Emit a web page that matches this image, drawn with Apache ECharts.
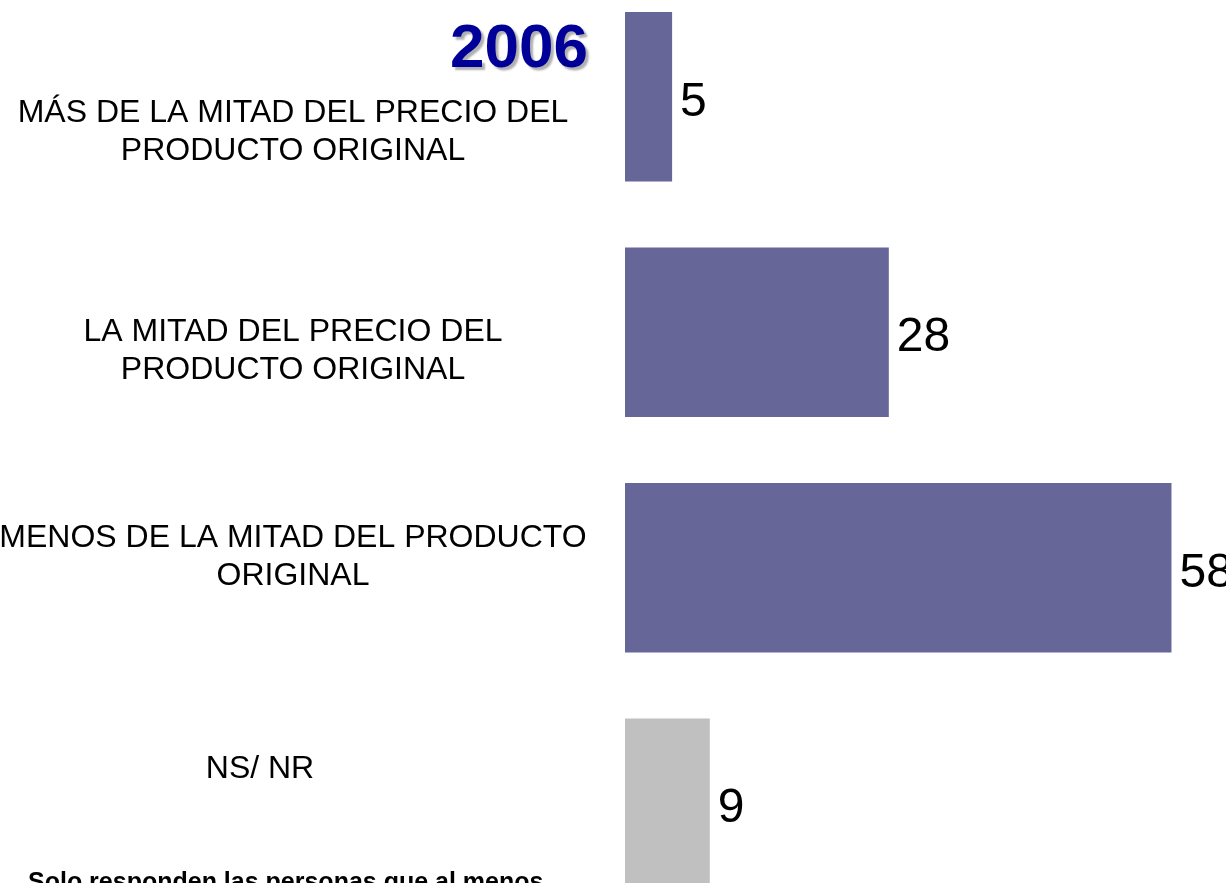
<!DOCTYPE html>
<html>
<head>
<meta charset="utf-8">
<title>2006</title>
<script src="https://cdn.jsdelivr.net/npm/echarts@6/dist/echarts.min.js"></script>
<style>
  html, body { margin: 0; padding: 0; background: #fff; }
  #chart { width: 1226px; height: 883px; }
</style>
</head>
<body>
<div id="chart"></div>
<script>
// categories, top to bottom
const categories = [
  'MÁS DE LA MITAD DEL PRECIO DEL\nPRODUCTO ORIGINAL',
  'LA MITAD DEL PRECIO DEL\nPRODUCTO ORIGINAL',
  'MENOS DE LA MITAD DEL PRODUCTO\nORIGINAL',
  'NS/ NR'
];
const values = [5, 28, 58, 9];
const barColors = ['#666699', '#666699', '#666699', '#C0C0C0'];
// the labels sit a little off the bar centre in the original
const labelShiftY = [35, 19, -11, -34];
const labelShiftX = [0, 0, 0, -33];

const labelFont = 'Liberation Sans, Arial';

// spacer lines above/below push each label block up or down
const rich = {
  t: { fontFamily: labelFont, fontSize: 32, lineHeight: 38, color: '#000', align: 'center' }
};
categories.forEach((c, i) => {
  rich['s' + i] = { fontSize: 1, lineHeight: Math.abs(labelShiftY[i]) * 2, align: 'center' };
  rich['x' + i] = {
    fontFamily: labelFont, fontSize: 32, lineHeight: 38, color: '#000', align: 'center',
    padding: [0, labelShiftX[i] < 0 ? -labelShiftX[i] * 2 : 0, 0, 0]
  };
});

const myChart = echarts.init(document.getElementById('chart'));

const option = {
  backgroundColor: '#fff',
  animation: false,
  title: [
    {
      text: '2006',
      left: 514,
      top: 14,
      textAlign: 'center',
      textStyle: {
        fontFamily: labelFont,
        fontSize: 62,
        fontWeight: 'bold',
        color: '#000099',
        textShadowColor: '#b0b0b0',
        textShadowOffsetX: 3,
        textShadowOffsetY: 3,
        textShadowBlur: 2
      }
    },
    {
      text: 'Solo responden las personas que al menos',
      left: 23,
      top: 866,
      textStyle: {
        fontFamily: labelFont,
        fontSize: 25,
        fontWeight: 'bold',
        color: '#000'
      }
    }
  ],
  grid: {
    left: 625,
    top: -21,
    width: 603,
    height: 942,
    outerBoundsMode: 'none',
    containLabel: false
  },
  xAxis: {
    type: 'value',
    min: 0,
    max: 64,
    show: false
  },
  yAxis: {
    type: 'category',
    inverse: true,
    data: categories,
    axisLine: { show: false },
    axisTick: { show: false },
    splitLine: { show: false },
    axisLabel: {
      align: 'center',
      margin: 332,
      color: '#000',
      formatter: function (value, index) {
        const tag = labelShiftX[index] ? 'x' + index : 't';
        const body = value.split('\n').map(ln => '{' + tag + '|' + ln + '}').join('\n');
        const spacer = '{s' + index + '| }';
        if (labelShiftY[index] > 0) return spacer + '\n' + body;
        if (labelShiftY[index] < 0) return body + '\n' + spacer;
        return body;
      },
      rich: rich
    }
  },
  series: [{
    type: 'bar',
    barCategoryGap: '28%',
    data: values.map((v, i) => ({ value: v, itemStyle: { color: barColors[i] } })),
    label: {
      show: true,
      position: 'right',
      distance: 8,
      fontFamily: labelFont,
      fontSize: 48,
      color: '#000',
      offset: [0, 6]
    }
  }]
};

myChart.setOption(option);
</script>
</body>
</html>
